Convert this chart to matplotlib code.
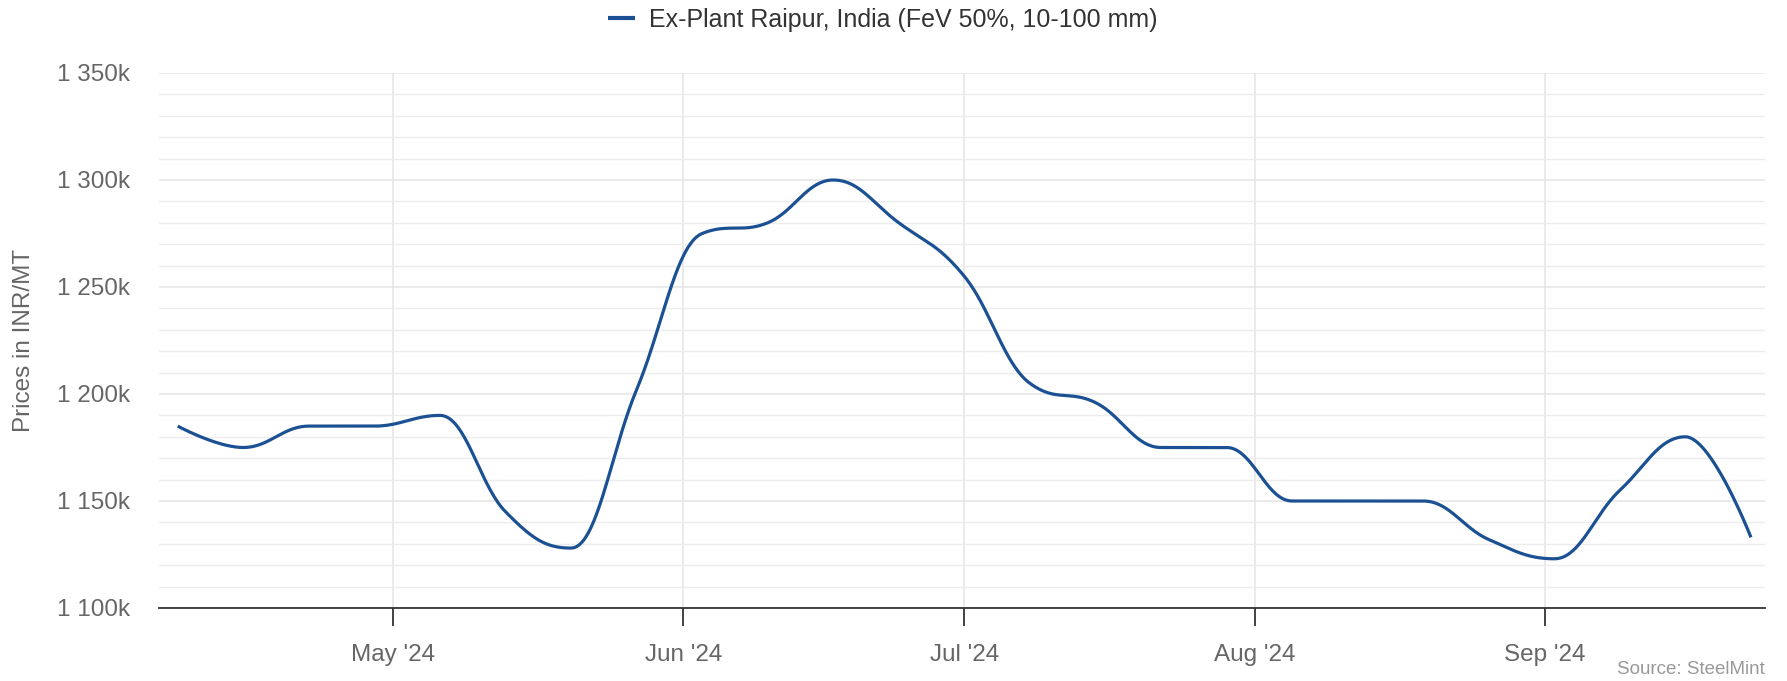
import numpy as np
import matplotlib
matplotlib.use("Agg")
import matplotlib.pyplot as plt
import matplotlib.dates as mdates
from matplotlib.ticker import FuncFormatter, MultipleLocator

plt.rcParams['font.family'] = ['Liberation Sans', 'DejaVu Sans']

# weekly prices, INR/MT
dates = ['2024-04-08', '2024-04-15', '2024-04-22', '2024-04-29', '2024-05-06',
         '2024-05-13', '2024-05-20', '2024-05-27', '2024-06-03', '2024-06-10',
         '2024-06-17', '2024-06-24', '2024-07-01', '2024-07-08', '2024-07-15',
         '2024-07-22', '2024-07-29', '2024-08-05', '2024-08-12', '2024-08-19',
         '2024-08-26', '2024-09-02', '2024-09-09', '2024-09-16', '2024-09-23']
prices = [1185000, 1175000, 1185000, 1185000, 1190000,
          1145000, 1128000, 1202000, 1275000, 1280000,
          1300000, 1280000, 1255000, 1205000, 1196000,
          1175000, 1175000, 1150000, 1150000, 1150000,
          1132000, 1123000, 1155000, 1180000, 1133000]

series_name = 'Ex-Plant Raipur, India (FeV 50%, 10-100 mm)'
y_label = 'Prices in INR/MT'
source = 'Source: SteelMint'
line_color = '#1b5193'


def spline(xs, ys, smoothing=1.5, n=40):
    # same control points as a highcharts "spline" series
    xs = np.asarray(xs, float)
    ys = np.asarray(ys, float)
    m = len(xs)
    lc = [(xs[i], ys[i]) for i in range(m)]
    rc = [(xs[i], ys[i]) for i in range(m)]
    d = smoothing + 1
    for i in range(1, m - 1):
        px, py = xs[i], ys[i]
        lx, ly = xs[i - 1], ys[i - 1]
        nx, ny = xs[i + 1], ys[i + 1]
        lcx = (smoothing * px + lx) / d
        lcy = (smoothing * py + ly) / d
        rcx = (smoothing * px + nx) / d
        rcy = (smoothing * py + ny) / d
        if rcx != lcx:
            corr = (rcy - lcy) * (rcx - px) / (rcx - lcx) + py - rcy
            lcy += corr
            rcy += corr
        if lcy > ly and lcy > py:
            lcy = max(ly, py)
            rcy = 2 * py - lcy
        elif lcy < ly and lcy < py:
            lcy = min(ly, py)
            rcy = 2 * py - lcy
        if rcy > ny and rcy > py:
            rcy = max(ny, py)
            lcy = 2 * py - rcy
        elif rcy < ny and rcy < py:
            rcy = min(ny, py)
            lcy = 2 * py - rcy
        lc[i] = (lcx, lcy)
        rc[i] = (rcx, rcy)
    t = np.linspace(0, 1, n)[:, None]
    out = []
    for i in range(m - 1):
        p0 = np.array([xs[i], ys[i]])
        p1 = np.array(rc[i])
        p2 = np.array(lc[i + 1])
        p3 = np.array([xs[i + 1], ys[i + 1]])
        seg = ((1 - t) ** 3) * p0 + 3 * ((1 - t) ** 2) * t * p1 + 3 * (1 - t) * t ** 2 * p2 + t ** 3 * p3
        out.append(seg if i == 0 else seg[1:])
    out = np.vstack(out)
    return out[:, 0], out[:, 1]


x = mdates.datestr2num(dates)
sx, sy = spline(x, prices)

W, H = 1787, 681
fig = plt.figure(figsize=(W / 100, H / 100), dpi=100)
ax = fig.add_axes([159 / W, 1 - 608 / H, (1765 - 159) / W, (608 - 73) / H])

ax.plot(sx, sy, color=line_color, lw=2.3, solid_capstyle='butt', label=series_name, zorder=3)

ax.set_ylim(1100000, 1350000)
ax.set_xlim(mdates.datestr2num('2024-04-06'), mdates.datestr2num('2024-09-24 12:00'))

ax.yaxis.set_major_locator(MultipleLocator(50000))
ax.yaxis.set_minor_locator(MultipleLocator(10000))
ax.yaxis.set_major_formatter(FuncFormatter(lambda v, p: f"{int(round(v / 1000)):,}".replace(',', ' ') + 'k'))
ax.xaxis.set_major_locator(mdates.MonthLocator())
ax.xaxis.set_major_formatter(mdates.DateFormatter("%b '%y"))

ax.grid(True, which='major', axis='both', color='#e6e6e6', lw=1.2)
ax.grid(True, which='minor', axis='y', color='#ececec', lw=1.0)
ax.set_axisbelow(True)

for s in ['left', 'top', 'right']:
    ax.spines[s].set_visible(False)
ax.spines['bottom'].set_color('#333333')
ax.spines['bottom'].set_linewidth(1.3)

ax.tick_params(axis='y', which='both', length=0, pad=21, labelsize=17.5, labelcolor='#666666')
ax.tick_params(axis='x', which='major', length=13, width=1.3, color='#333333',
               pad=13, labelsize=17.5, labelcolor='#666666')
ax.tick_params(axis='x', which='minor', length=0)

fig.text(24 / W, 1 - 340 / H, y_label, rotation=90, ha='center', va='center',
         fontsize=17.5, color='#666666')
fig.text(1765 / W, 1 - 670 / H, source, ha='right', va='center', fontsize=13.5, color='#999999')

leg = fig.legend(loc='center', bbox_to_anchor=(0.494, 1 - 20 / H), frameon=False,
                 fontsize=18, labelcolor='#333333', handlelength=1.1, handletextpad=0.55)
for h in leg.get_lines():
    h.set_linewidth(3)

fig.savefig('out.png', dpi=100)
